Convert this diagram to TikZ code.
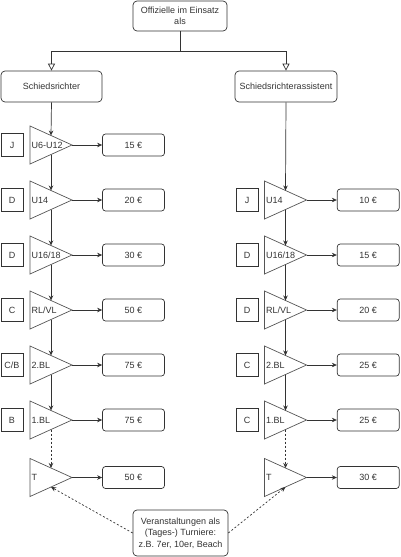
\documentclass[tikz,border=0pt]{standalone}
\usepackage{fontspec}
\setmainfont{Liberation Sans}
\usetikzlibrary{arrows.meta}
\definecolor{ln}{HTML}{333333}
\definecolor{tl}{HTML}{555555}
\newcommand\mytri[4]{%
  \draw[trishape] (#2,#3-19) -- (#2+42,#3) -- (#2,#3+19) -- cycle;
  \coordinate (#1-in) at (#2+21,#3-9.5);
  \coordinate (#1-out) at (#2+21,#3+9.5);
  \coordinate (#1-tip) at (#2+42,#3);
  \node[anchor=west, inner sep=0pt, text=ln] (#1-l) at (#2+1.2,#3) {#4};
}
\begin{document}
\begin{tikzpicture}[x=1pt,y=-1pt,
  font=\fontsize{9}{11.5}\selectfont,
  line width=0.7pt,
  rbox/.style={draw=ln, text=ln, rounded corners=4pt, inner sep=0pt, align=center},
  pbox/.style={draw=ln, text=ln, rounded corners=3pt, minimum width=62pt, minimum height=22pt, inner sep=0pt},
  sq/.style={draw=ln, text=ln, minimum width=22pt, minimum height=23pt, inner sep=0pt},
  trishape/.style={draw=tl},
  arr/.style={draw=ln, -{Stealth[length=5pt,width=4.5pt]}},
  darr/.style={arr, dash pattern=on 2pt off 2pt},
  oarr/.style={draw=ln, -{Triangle[open,length=7pt,width=7pt]}}]
\useasboundingbox (0,0) rectangle (400,557);
% top
\node[rbox, minimum width=94pt, minimum height=30pt] (top) at (180,16) {Offizielle im Einsatz\\als};
\node[rbox, minimum width=101pt, minimum height=31pt] (sr) at (51.5,86.5) {Schiedsrichter};
\node[rbox, minimum width=102pt, minimum height=31pt] (sra) at (286,86.5) {Schiedsrichterassistent};
\draw[oarr] (top.south) -- ++(0,20) -| (sr.north);
\draw[oarr] (top.south) -- ++(0,20) -| (sra.north);
% left column
\mytri{a1}{30}{145}{U6-U12}
\mytri{a2}{30}{200}{U14}
\mytri{a3}{30}{255}{U16/18}
\mytri{a4}{30}{310}{RL/VL}
\mytri{a5}{30}{365}{2.BL}
\mytri{a6}{30}{420}{1.BL}
\mytri{a7}{30}{477.5}{T}
\node[sq] (as1) at (12,145) {J};
\node[sq] (as2) at (12,200) {D};
\node[sq] (as3) at (12,255) {D};
\node[sq] (as4) at (12,310) {C};
\node[sq] (as5) at (12,365) {C/B};
\node[sq] (as6) at (12,420) {B};
\node[pbox] (ap1) at (133.5,145) {15 €};
\node[pbox] (ap2) at (133.5,200) {20 €};
\node[pbox] (ap3) at (133.5,255) {30 €};
\node[pbox] (ap4) at (133.5,310) {50 €};
\node[pbox] (ap5) at (133.5,365) {75 €};
\node[pbox] (ap6) at (133.5,420) {75 €};
\node[pbox] (ap7) at (133.5,477.5) {50 €};
\draw[arr] (sr.south) -- (a1-in);
\draw[arr] (a1-out) -- (a2-in);
\draw[arr] (a2-out) -- (a3-in);
\draw[arr] (a3-out) -- (a4-in);
\draw[arr] (a4-out) -- (a5-in);
\draw[arr] (a5-out) -- (a6-in);
\draw[darr] (a6-out) -- (a7-in);
\foreach \i in {1,...,7}{\draw[arr] (a\i-tip) -- (ap\i.west);}
% right column
\mytri{b2}{264.5}{200}{U14}
\mytri{b3}{264.5}{255}{U16/18}
\mytri{b4}{264.5}{310}{RL/VL}
\mytri{b5}{264.5}{365}{2.BL}
\mytri{b6}{264.5}{420}{1.BL}
\mytri{b7}{264.5}{477.5}{T}
\node[sq] (bs2) at (247,200) {J};
\node[sq] (bs3) at (247,255) {D};
\node[sq] (bs4) at (247,310) {D};
\node[sq] (bs5) at (247,365) {C};
\node[sq] (bs6) at (247,420) {C};
\node[pbox] (bp2) at (368.2,200) {10 €};
\node[pbox] (bp3) at (368.2,255) {15 €};
\node[pbox] (bp4) at (368.2,310) {20 €};
\node[pbox] (bp5) at (368.2,365) {25 €};
\node[pbox] (bp6) at (368.2,420) {25 €};
\node[pbox] (bp7) at (368.2,477.5) {30 €};
\draw[arr] (sra.south) -- (b2-in);
\draw[arr] (b2-out) -- (b3-in);
\draw[arr] (b3-out) -- (b4-in);
\draw[arr] (b4-out) -- (b5-in);
\draw[arr] (b5-out) -- (b6-in);
\draw[darr] (b6-out) -- (b7-in);
\foreach \i in {2,...,7}{\draw[arr] (b\i-tip) -- (bp\i.west);}
% bottom
\node[rbox, minimum width=95pt, minimum height=46pt] (ev) at (180.5,533) {Veranstaltungen als\\(Tages-) Turniere:\\z.B. 7er, 10er, Beach};
\draw[darr] (ev.west) -- (a7-out);
\draw[darr] (ev.east) -- (b7-out);
\end{tikzpicture}
\end{document}
